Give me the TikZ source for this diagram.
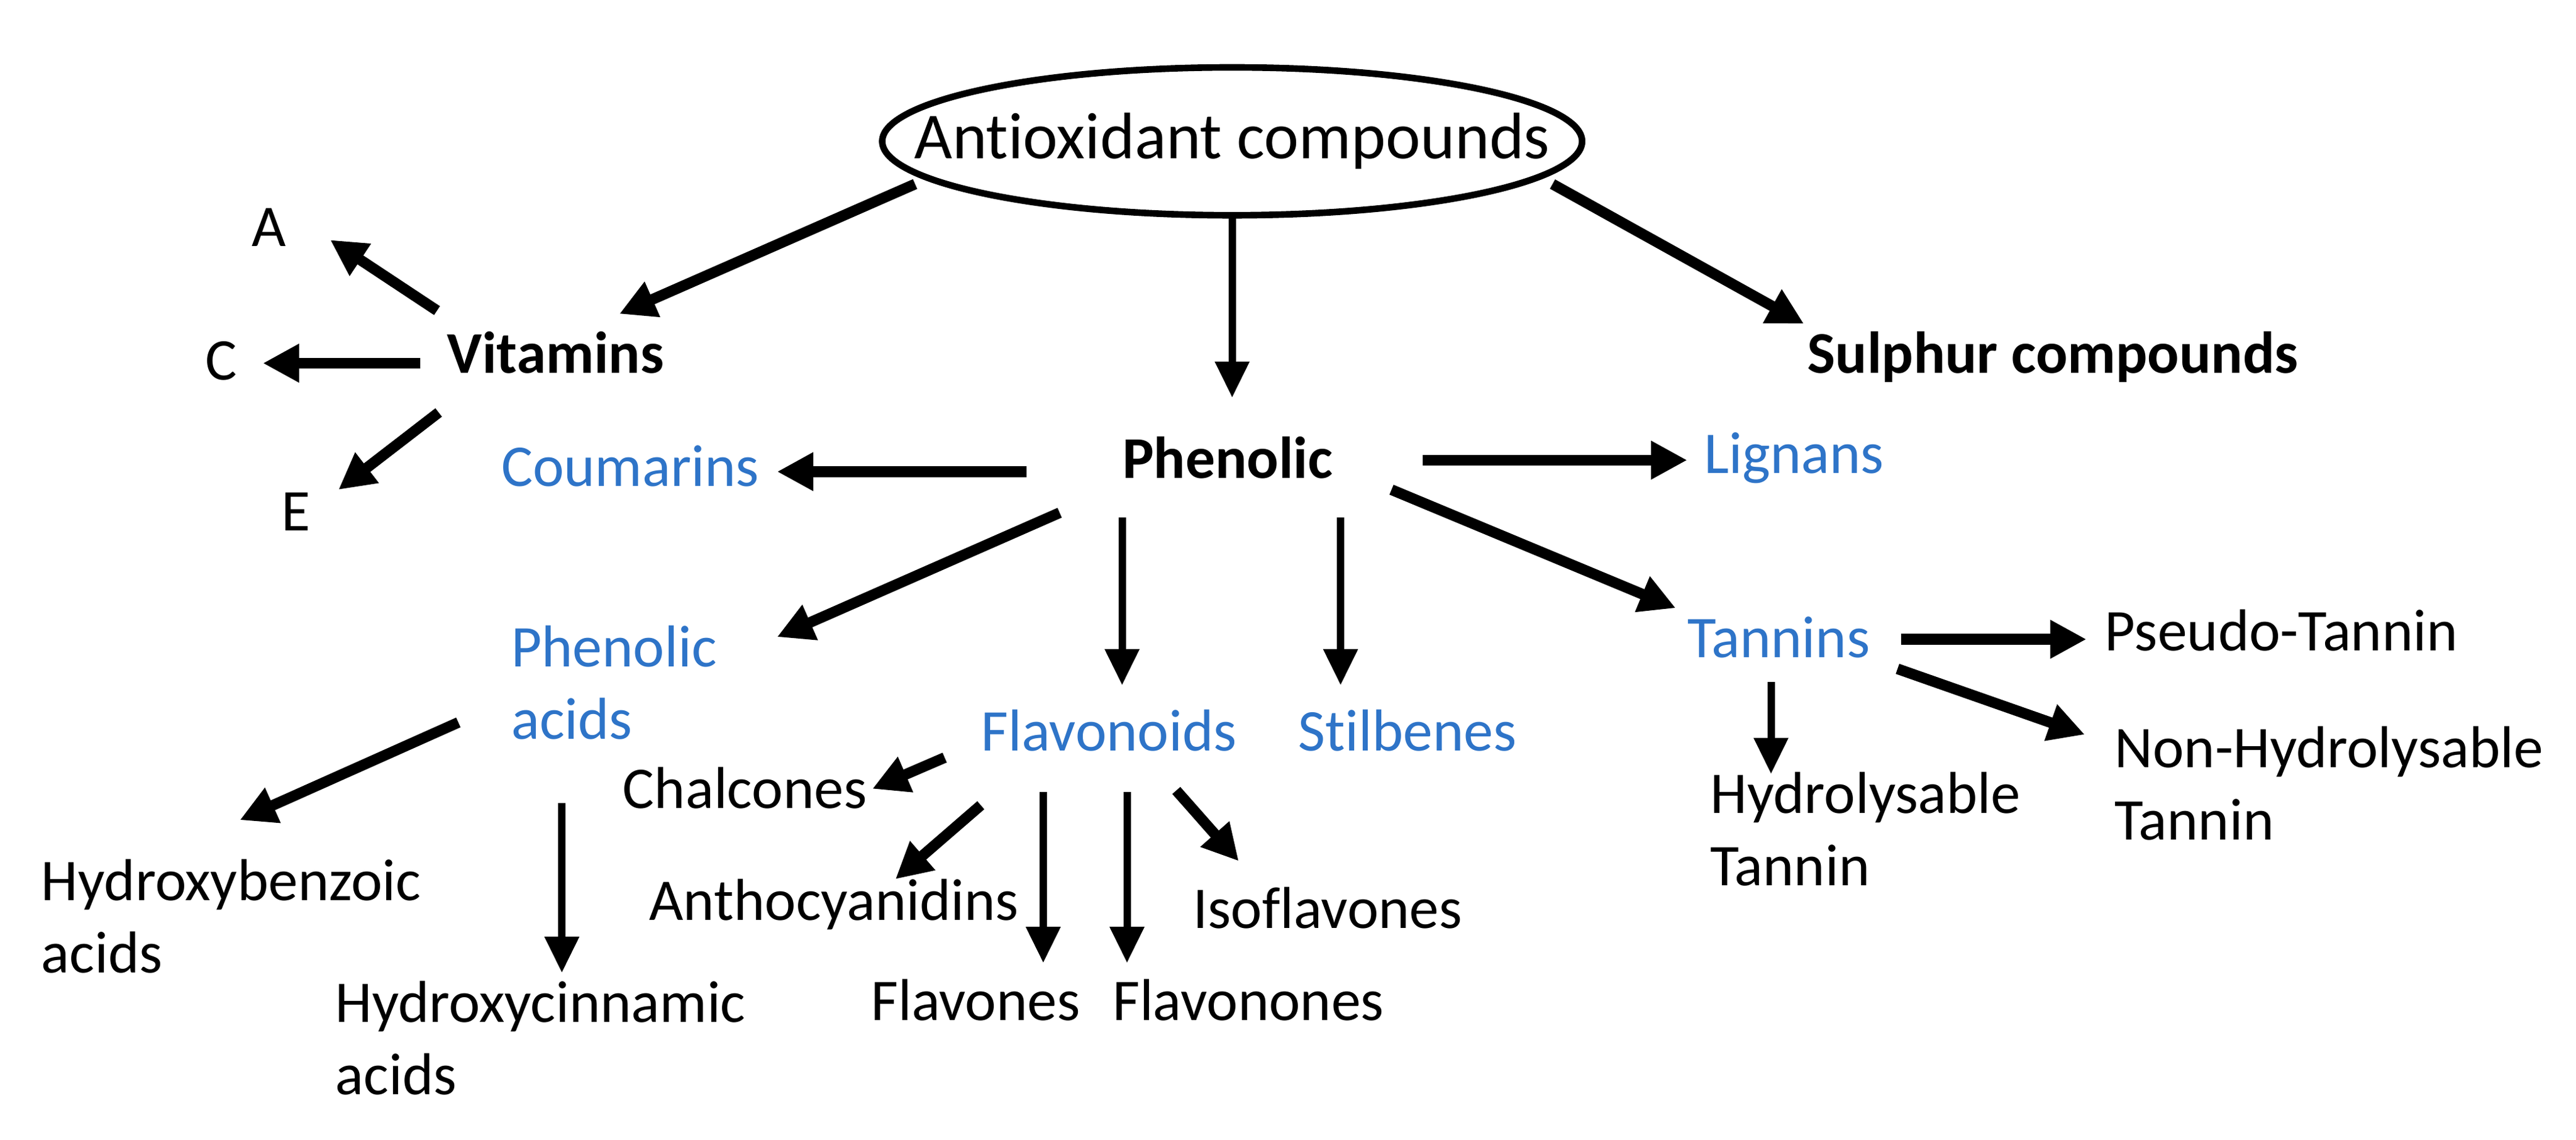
\documentclass[tikz,border=0pt]{standalone}
\usepackage{fontspec}
\setmainfont{Carlito}[Ligatures={TeX,NoCommon}]
\usetikzlibrary{shapes,arrows.meta,positioning,calc}
\definecolor{subclass}{RGB}{46,116,200}

\begin{document}
\begin{tikzpicture}[x=1pt,y=-1pt,
    every node/.style={inner sep=0pt,anchor=base west,font=\fontsize{36}{44}\selectfont},
    grp/.style={font=\fontsize{36}{44}\selectfont\bfseries},
    cls/.style={text=subclass},
    arr/.style={-{Triangle[length=22pt,width=22pt]},line width=6.5pt},
    tarr/.style={-{Triangle[length=22pt,width=20pt]},line width=4.5pt}]
    \useasboundingbox (0,0) rectangle (1568,693.7);

    \node[draw,ellipse,line width=4pt,anchor=center,minimum width=426pt,minimum height=90pt,font=\fontsize{40}{48}\selectfont] (ant) at (750,86) {\makebox[0pt]{Antioxidant compounds}};

    \node[grp] (vit) at (272,227) {Vitamins};
    \node[grp] (sul) at (1100,227) {Sulphur compounds};
    \node (vA) at (153,150) {A};
    \node (vC) at (125,231) {C};
    \node (vE) at (171,323) {E};

    \node[grp] (phen) at (683,291) {Phenolic};
    \node[cls] (cou) at (305,296) {Coumarins};
    \node[cls] (lig) at (1037,288) {Lignans};
    \node[cls,align=left] (pha) at (311,449.6) {Phenolic\\acids};
    \node[cls] (flav) at (597,457) {Flavonoids};
    \node[cls] (stil) at (790,457) {Stilbenes};
    \node[cls] (tan) at (1027,400) {Tannins};

    \node[align=left] (hba) at (25,592) {Hydroxybenzoic\\acids};
    \node[align=left] (hca) at (204,666) {Hydroxycinnamic\\acids};
    \node (chal) at (379,492) {Chalcones};
    \node (anth) at (395,560) {Anthocyanidins};
    \node (flv) at (530,621) {Flavones};
    \node (flvn) at (677,621) {Flavonones};
    \node (iso) at (726,565) {Isoflavones};
    \node (pse) at (1281,396) {Pseudo-Tannin};
    \node[align=left] (hyd) at (1041,539) {Hydrolysable\\Tannin};
    \node[align=left] (nhy) at (1287,511) {Non-Hydrolysable\\Tannin};

    \draw[arr] ([shift={(-193,26)}]ant.center) -- ([shift={(105,-36)}]vit.base west);
    \draw[tarr] ([shift={(0,46)}]ant.center) -- ([shift={(67,-49)}]phen.base west);
    \draw[arr] ([shift={(195,26)}]ant.center) -- ([shift={(-2,-30)}]sul.base west);

    \draw[arr] ([shift={(-6,-38)}]vit.base west) -- ([shift={(48,-4)}]vA.base west);
    \draw[arr] ([shift={(-16,-6)}]vit.base west) -- ([shift={(35,-10)}]vC.base west);
    \draw[arr] ([shift={(-5,24)}]vit.base west) -- ([shift={(35,-25)}]vE.base west);

    \draw[arr] ([shift={(-58,-4)}]phen.base west) -- ([shift={(168,-9)}]cou.base west);
    \draw[arr] ([shift={(183,-11)}]phen.base west) -- ([shift={(-10,-8)}]lig.base west);
    \draw[arr] ([shift={(-38,21)}]phen.base west) -- ([shift={(162,-62)}]pha.base west);
    \draw[tarr] ([shift={(0,24)}]phen.base west) -- ([shift={(86,-40)}]flav.base west);
    \draw[tarr] ([shift={(133,24)}]phen.base west) -- ([shift={(26,-40)}]stil.base west);
    \draw[arr] ([shift={(164,7)}]phen.base west) -- ([shift={(-7,-30)}]tan.base west);

    \draw[arr] ([shift={(-32,-10)}]pha.base west) -- ([shift={(121,-93)}]hba.base west);
    \draw[tarr] ([shift={(31,39)}]pha.base west) -- ([shift={(138,-74)}]hca.base west);

    \draw[arr] ([shift={(-22,4)}]flav.base west) -- ([shift={(152,-12)}]chal.base west);
    \draw[arr] ([shift={(0,33)}]flav.base west) -- ([shift={(150,-25)}]anth.base west);
    \draw[tarr] ([shift={(38,25)}]flav.base west) -- ([shift={(105,-35)}]flv.base west);
    \draw[tarr] ([shift={(89,25)}]flav.base west) -- ([shift={(9,-35)}]flvn.base west);
    \draw[arr] ([shift={(119,24)}]flav.base west) -- ([shift={(28,-41)}]iso.base west);

    \draw[arr] ([shift={(130,-11)}]tan.base west) -- ([shift={(-11,-7)}]pse.base west);
    \draw[tarr] ([shift={(51,15)}]tan.base west) -- ([shift={(37,-68)}]hyd.base west);
    \draw[arr] ([shift={(128,7)}]tan.base west) -- ([shift={(-18,-64)}]nhy.base west);
\end{tikzpicture}
\end{document}
